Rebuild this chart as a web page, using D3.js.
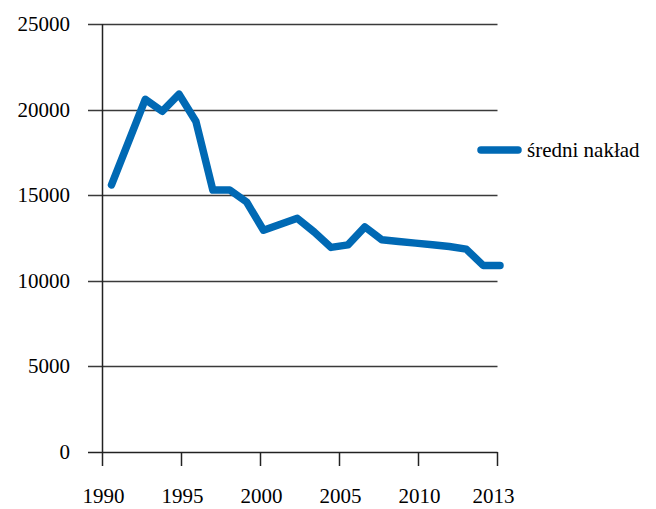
<!DOCTYPE html>
<html>
<head>
<meta charset="utf-8">
<script src="https://cdn.jsdelivr.net/npm/d3@7"></script>
<style>
  html, body { margin: 0; padding: 0; background: #fff; }
  svg text { font-family: "Liberation Serif", "DejaVu Serif", "Times New Roman", Times, serif; }
</style>
</head>
<body>
<svg id="chart" width="656" height="509"></svg>
<script>
const years = [1990,1991,1992,1993,1994,1995,1996,1997,1998,1999,2000,2001,2002,2003,2004,2005,2006,2007,2008,2009,2010,2011,2012,2013];
const nakład = [15600,18100,20600,19900,20900,19300,15300,15300,14600,12950,13300,13650,12850,11950,12100,13150,12400,12300,12200,12100,12000,11850,10900,10900];
const seriesName = "średni nakład";
const xTickLabels = ["1990","1995","2000","2005","2010","2013"];
const yTicks = [0,5000,10000,15000,20000,25000];

const FS = 21;
const svg = d3.select("#chart");
const x = d3.scaleLinear().domain([1990, 2013]).range([111.5, 500]);
const xTickPos = d3.scalePoint().domain(xTickLabels).range([102.5, 497.5]);
const y = d3.scaleLinear().domain([0, 25000]).range([452, 24]);

// gridlines + y ticks
const grid = svg.append("g");
grid.selectAll("line").data(yTicks).join("line")
  .attr("x1", 88).attr("x2", 497.5)
  .attr("y1", d => Math.round(y(d)) + 0.5).attr("y2", d => Math.round(y(d)) + 0.5)
  .attr("stroke", d => d === 0 ? "#222" : "#3a3a3a").attr("stroke-width", 1.5);

grid.selectAll("text").data(yTicks).join("text")
  .attr("x", 70).attr("y", d => y(d))
  .attr("text-anchor", "end").attr("dominant-baseline", "central")
  .attr("font-size", FS).attr("fill", "#000")
  .text(d => d);

// y axis line
svg.append("line")
  .attr("x1", 102.5).attr("x2", 102.5).attr("y1", y(25000)).attr("y2", 466)
  .attr("stroke", "#222").attr("stroke-width", 1.5);

// x ticks
const xt = svg.append("g");
xt.selectAll("line").data(xTickLabels.slice(1)).join("line")
  .attr("x1", d => xTickPos(d)).attr("x2", d => xTickPos(d))
  .attr("y1", 452).attr("y2", 466)
  .attr("stroke", "#222").attr("stroke-width", 1.5);
xt.selectAll("text").data(xTickLabels).join("text")
  .attr("x", (d, i) => xTickPos(d) + (i === xTickLabels.length - 1 ? -4 : 1))
  .attr("y", 503)
  .attr("text-anchor", "middle")
  .attr("font-size", FS).attr("fill", "#000")
  .text(d => d);

// series line
const line = d3.line().x((d, i) => x(years[i])).y(d => y(d));
svg.append("path")
  .datum(nakład)
  .attr("d", line)
  .attr("fill", "none")
  .attr("stroke", "#0069B4")
  .attr("stroke-width", 7.5)
  .attr("stroke-linejoin", "round")
  .attr("stroke-linecap", "round");

// legend
const lg = svg.append("g");
lg.append("line")
  .attr("x1", 481).attr("x2", 518).attr("y1", 150).attr("y2", 150)
  .attr("stroke", "#0069B4").attr("stroke-width", 7.5).attr("stroke-linecap", "round");
lg.append("text")
  .attr("x", 527).attr("y", 157)
  .attr("font-size", FS).attr("fill", "#000")
  .text(seriesName);
</script>
</body>
</html>
